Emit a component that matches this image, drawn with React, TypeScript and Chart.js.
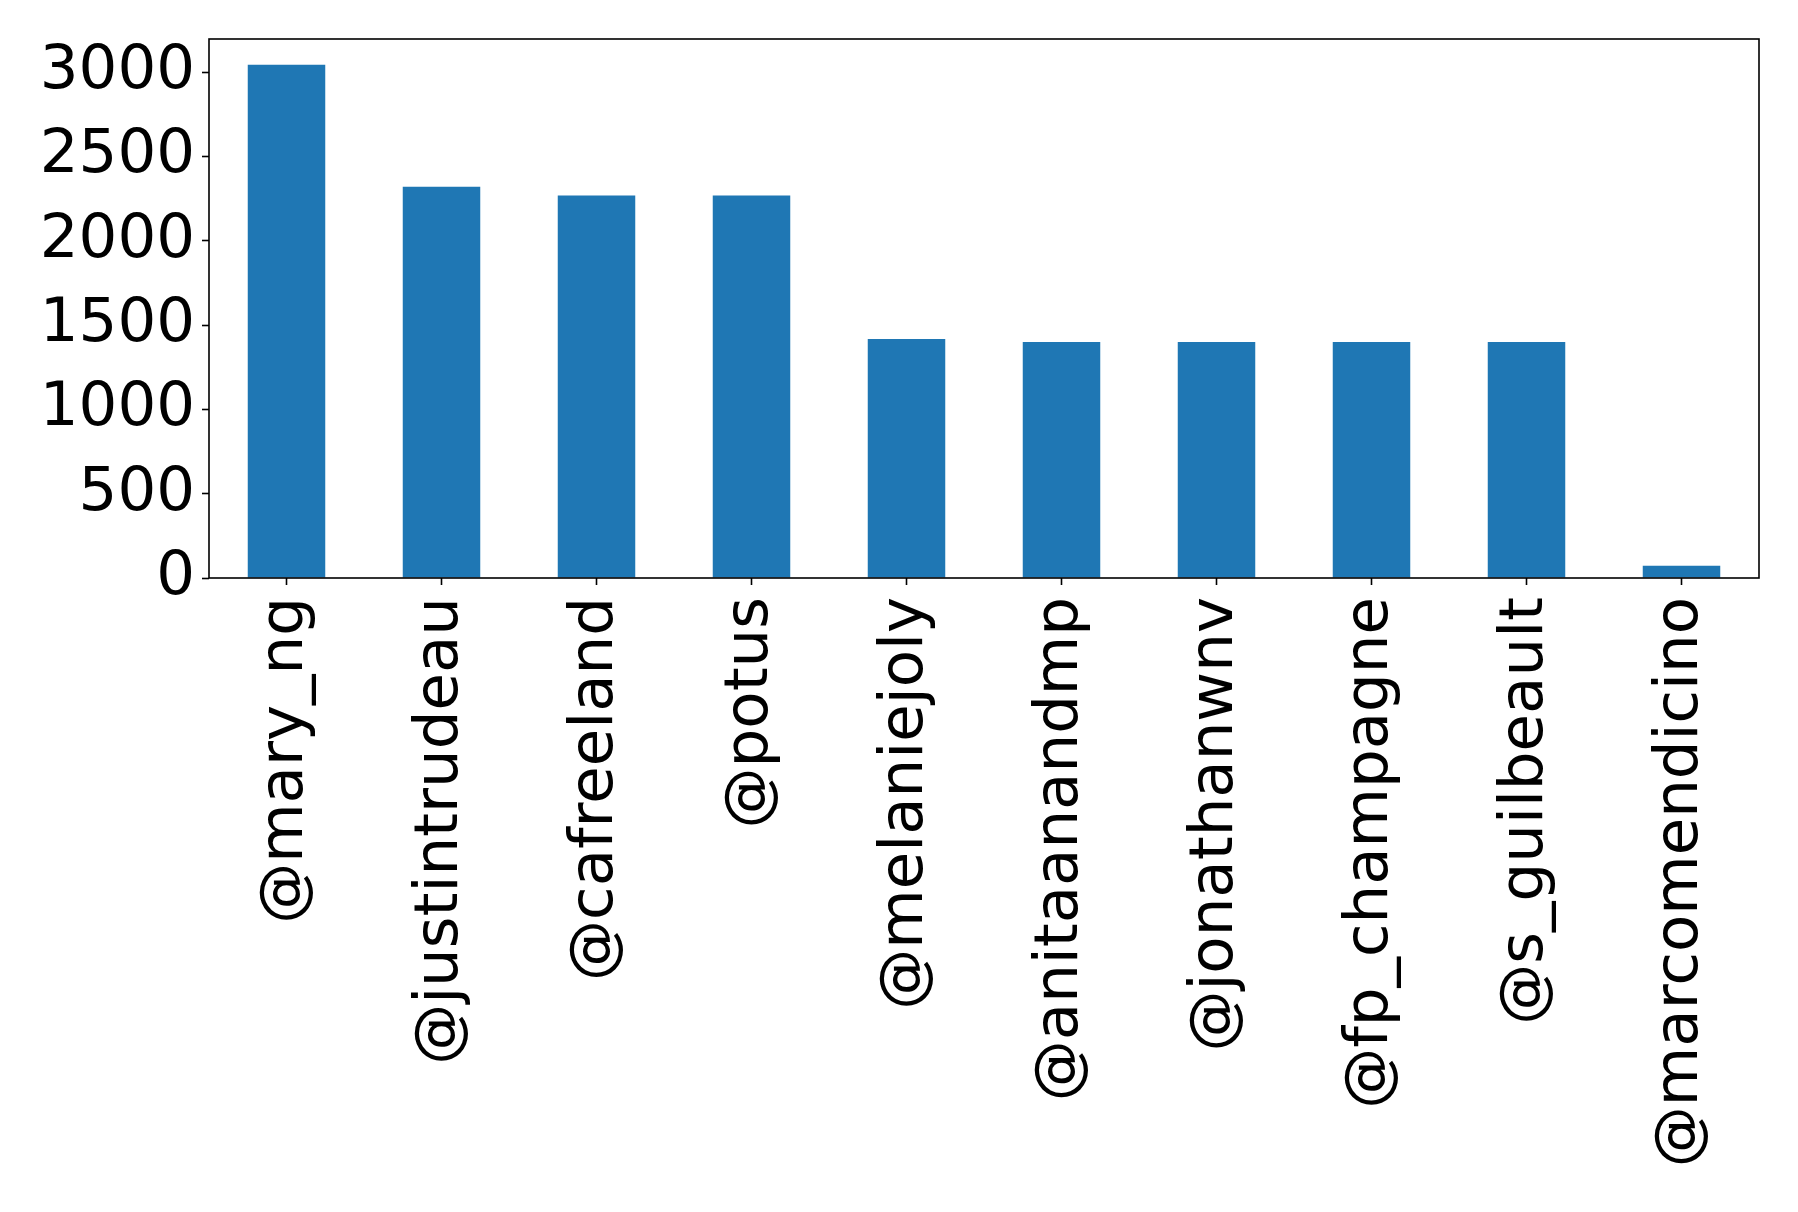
import { Chart, registerables } from "chart.js";
import { useEffect, useRef } from "react";

Chart.register(...registerables);

const accounts = [
  "@mary_ng",
  "@justintrudeau",
  "@cafreeland",
  "@potus",
  "@melaniejoly",
  "@anitaanandmp",
  "@jonathanwnv",
  "@fp_champagne",
  "@s_guilbeault",
  "@marcomendicino",
];
const counts = [3045, 2321, 2269, 2269, 1418, 1400, 1400, 1400, 1400, 72];
const yTicks = [0, 500, 1000, 1500, 2000, 2500, 3000];

const W = 1798;
const H = 1212;

// matplotlib style frame round the plot area
const framePlugin = {
  id: "frame",
  afterDraw(chart: any) {
    const { ctx, chartArea } = chart;
    ctx.save();
    ctx.strokeStyle = "#000";
    ctx.lineWidth = 1.6;
    ctx.strokeRect(
      chartArea.left,
      chartArea.top,
      chartArea.right - chartArea.left,
      chartArea.bottom - chartArea.top
    );
    ctx.restore();
  },
};

const App = () => {
  const chartRef = useRef<HTMLCanvasElement | null>(null);

  useEffect(() => {
    if (!chartRef.current) return;
    const ctx = chartRef.current.getContext("2d");
    if (!ctx) return;

    const font = { family: "'DejaVu Sans'", size: 61 };

    const chartInstance = new Chart(ctx, {
      type: "bar",
      data: {
        labels: accounts,
        datasets: [
          {
            data: counts,
            backgroundColor: "#1f77b4",
            barPercentage: 0.5,
            categoryPercentage: 1.0,
          },
        ],
      },
      options: {
        animation: false,
        responsive: true,
        maintainAspectRatio: false,
        devicePixelRatio: 1,
        layout: { padding: { top: 39, right: 39, left: 0, bottom: 0 } },
        plugins: {
          legend: { display: false },
          tooltip: { enabled: false },
        },
        scales: {
          x: {
            offset: true,
            border: { display: false },
            grid: {
              offset: false,
              drawOnChartArea: false,
              drawTicks: true,
              tickLength: 7,
              tickWidth: 1.6,
              tickColor: "#000",
            },
            ticks: {
              color: "#000",
              font,
              maxRotation: 90,
              minRotation: 90,
              autoSkip: false,
              padding: 12,
            },
            afterFit: (scale: any) => {
              scale.height = H - 578;
              scale.paddingLeft = 0;
              scale.paddingRight = 0;
            },
          },
          y: {
            min: 0,
            max: 3197,
            border: { display: false },
            grid: {
              drawOnChartArea: false,
              drawTicks: true,
              tickLength: 7,
              tickWidth: 1.6,
              tickColor: "#000",
            },
            ticks: {
              color: "#000",
              font,
              padding: 7,
              callback: (value: any) => String(value),
            },
            afterBuildTicks: (scale: any) => {
              scale.ticks = yTicks.map((v) => ({ value: v }));
            },
            afterFit: (scale: any) => {
              scale.width = 209;
              scale.paddingTop = 0;
              scale.paddingBottom = 0;
            },
          },
        },
      },
      plugins: [framePlugin],
    });

    return () => {
      chartInstance.destroy();
    };
  }, []);

  return (
    <div
      style={{
        position: "fixed",
        left: 0,
        top: 0,
        width: W,
        height: H,
        background: "#fff",
      }}
    >
      <canvas ref={chartRef} />
    </div>
  );
};

export default App;
